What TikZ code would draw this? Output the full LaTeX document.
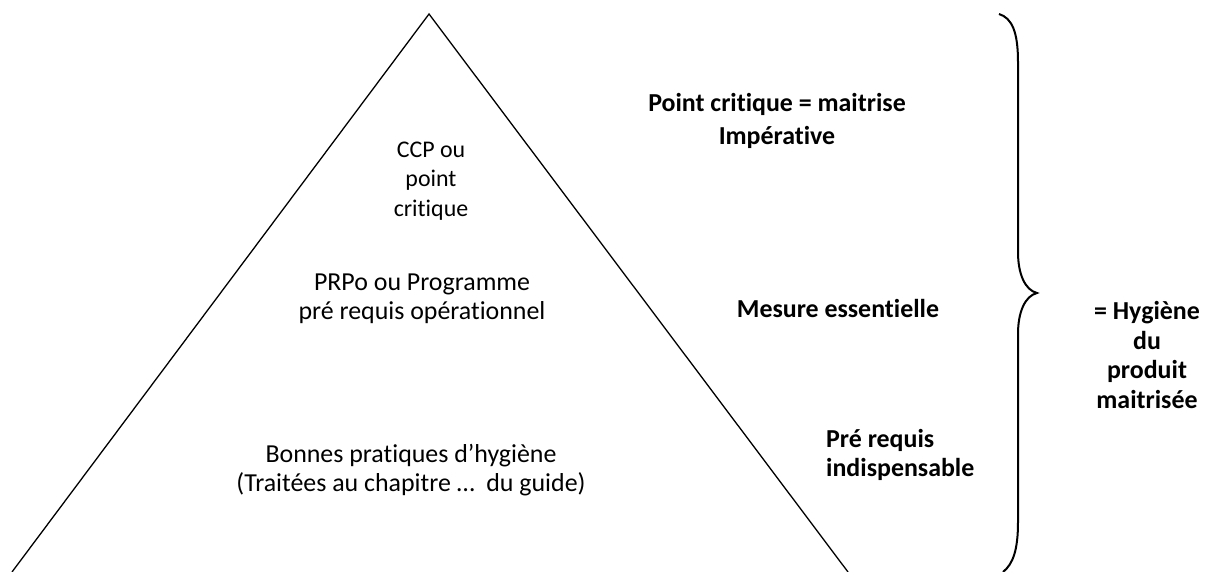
\documentclass[tikz,border=0pt]{standalone}
\usepackage{fontspec}
\setmainfont[Ligatures=NoCommon]{Carlito}
\begin{document}
\begin{tikzpicture}[x=1bp,y=-1bp,
  txt/.style={inner sep=0pt,align=center,font=\fontsize{26}{29}\selectfont},
  btxt/.style={inner sep=0pt,align=center,font=\fontsize{26}{33}\selectfont\bfseries},
  edge/.style={line width=1.3bp,black},
  bracestyle/.style={line width=2bp,black}]
\useasboundingbox (0,0) rectangle (1212,572);
\coordinate (apex) at (429,14);
\coordinate (bl) at (12,572);
\coordinate (br) at (848,572);
\draw[edge] (bl) -- (apex) -- (br);

\node[txt,font=\fontsize{24}{29.5}\selectfont] (ccp) at (431,181) {CCP ou\\point\\critique};
\node[txt] (prpo) at (422,299) {PRPo ou Programme\\pré requis opérationnel};
\node[txt] (bph) at (411,470) {Bonnes pratiques d’hygiène\\(Traitées au chapitre …\ \ du guide)};

\node[btxt] (pc) at (777,121) {Point critique = maitrise\\Impérative};
\node[btxt] (me) at (838,309) {Mesure essentielle};
\node[btxt,align=left,anchor=west,font=\fontsize{26}{29}\selectfont\bfseries] (pr) at (826,455) {Pré requis\\indispensable};
\node[btxt,font=\fontsize{26}{29.5}\selectfont\bfseries] (hyg) at (1147,355) {= Hygiène\\du\\produit\\maitrisée};

\coordinate (bt) at (999,14);
\coordinate (bm) at (1037,293);
\coordinate (bb) at (1003,572);
\draw[bracestyle] (bt) .. controls (1012,18) and (1018,32) .. (1018,62) -- (1018,252)
  .. controls (1018,274) and (1025,290) .. (bm)
  .. controls (1025,296) and (1018,312) .. (1018,334) -- (1018,522)
  .. controls (1018,550) and (1013,564) .. (bb);
\end{tikzpicture}
\end{document}
